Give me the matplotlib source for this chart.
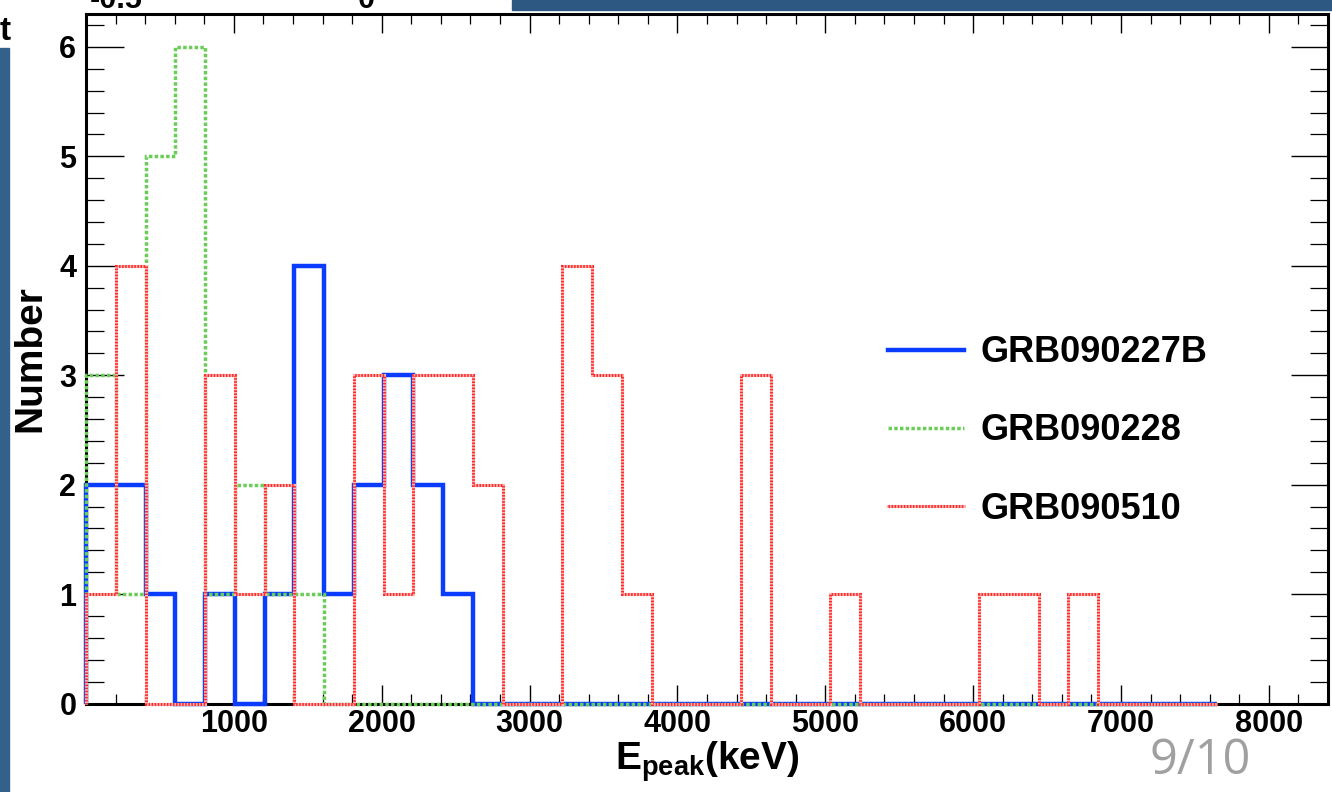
import numpy as np
import matplotlib
matplotlib.use("Agg")
import matplotlib.pyplot as plt
from matplotlib.lines import Line2D
from matplotlib.patches import Rectangle
from matplotlib.ticker import MultipleLocator

plt.rcParams["font.family"] = ["Liberation Sans", "DejaVu Sans"]
plt.rcParams["font.weight"] = "bold"
plt.rcParams["mathtext.fontset"] = "custom"
plt.rcParams["mathtext.rm"] = "Liberation Sans:bold"
plt.rcParams["mathtext.bf"] = "Liberation Sans:bold"
plt.rcParams["mathtext.it"] = "Liberation Sans:bold"

# 38 bins from 0 to ~7650 keV
bin_lo, bin_hi, n_bins = 0, 7650, 38

grb090227b = [2, 2, 1, 0, 1, 0, 1, 4, 1, 2, 3, 2, 1, 0, 0, 0, 0, 0, 0,
              0, 0, 0, 0, 0, 0, 0, 0, 0, 0, 0, 0, 0, 0, 0, 0, 0, 0, 0]
grb090228 = [3, 1, 5, 6, 1, 2, 1, 1, 0, 0, 0, 0, 0, 0, 0, 0, 0, 0, 0,
             0, 0, 0, 0, 0, 0, 0, 0, 0, 0, 0, 0, 0, 0, 0, 0, 0, 0, 0]
grb090510 = [1, 4, 0, 0, 3, 1, 2, 0, 0, 3, 1, 3, 3, 2, 0, 0, 4, 3, 1,
             0, 0, 0, 3, 0, 0, 1, 0, 0, 0, 0, 1, 1, 0, 1, 0, 0, 0, 0]
labels = ["GRB090227B", "GRB090228", "GRB090510"]

xticks = [0, 1000, 2000, 3000, 4000, 5000, 6000, 7000, 8000]
xticklabels = ["", "1000", "2000", "3000", "4000", "5000", "6000", "7000", "8000"]
yticks = [0, 1, 2, 3, 4, 5, 6]

edges = np.linspace(bin_lo, bin_hi, n_bins + 1)

W, H = 1332, 792
fig = plt.figure(figsize=(W / 100, H / 100), dpi=100)
ax = fig.add_axes([86 / W, (H - 703.5) / H, (1328 - 86) / W, (703.5 - 14) / H])

blue = dict(color="#0a3cff", lw=3.2, ls="-")
green = dict(color="#6acd58", lw=2.5, ls=(0, (1.0, 0.65)))
red_under = dict(color="#ffb4b4", lw=2.2, ls="-")
red = dict(color="#ff2a2a", lw=2.2, ls=(0, (0.5, 0.5)))

layers = [(grb090227b, blue, 3), (grb090228, green, 4),
          (grb090510, red_under, 5), (grb090510, red, 6)]
for vals, st, z in layers:
    ax.stairs(vals, edges, baseline=0, fill=False, edgecolor=st["color"],
              linewidth=st["lw"], linestyle=st["ls"], zorder=z, clip_on=False)

ax.set_xlim(0, 8400)
ax.set_ylim(0, 6.3)
ax.set_xticks(xticks)
ax.set_xticklabels(xticklabels)
ax.set_yticks(yticks)
ax.xaxis.set_minor_locator(MultipleLocator(200))
ax.yaxis.set_minor_locator(MultipleLocator(0.2))
ax.tick_params(axis="x", which="major", direction="in", length=14, width=1.0,
               top=True, labelsize=22, pad=4)
ax.tick_params(axis="x", which="minor", direction="in", length=7, width=0.9, top=True)
ax.tick_params(axis="y", which="major", direction="in", length=27, width=1.0,
               right=True, labelsize=22, pad=7)
ax.tick_params(axis="y", which="minor", direction="in", length=13, width=0.9, right=True)
for sp in ax.spines.values():
    sp.set_linewidth(2.2)

ax.set_xlabel(r"$\mathbf{E_{peak}(keV)}$", fontsize=28, labelpad=0)
ax.set_ylabel("Number", fontsize=28, fontweight="bold", labelpad=8)

# legend: red entry is two stacked lines (pale base + dense red dashes)
red_handle = (Line2D([], [], color=red_under["color"], lw=red_under["lw"]),
              Line2D([], [], color=red["color"], lw=red["lw"], ls=red["ls"]))
handles = [Line2D([], [], color=blue["color"], lw=blue["lw"]),
           Line2D([], [], color=green["color"], lw=green["lw"], ls=green["ls"]),
           red_handle]
ax.legend(handles, labels, loc="center left", bbox_to_anchor=(888 / W, 1 - 431 / H),
          bbox_transform=fig.transFigure, frameon=False, fontsize=26,
          handlelength=2.1, handletextpad=0.45, labelspacing=1.2,
          borderpad=0, borderaxespad=0)

# slide decorations around the chart
fig.patches.append(Rectangle((0, 0), 9 / W, 1 - 48 / H, transform=fig.transFigure,
                             color="#33618b", zorder=0))
fig.patches.append(Rectangle((512 / W, 1 - 10 / H), 1 - 512 / W, 10 / H,
                             transform=fig.transFigure, color="#2c5882", zorder=0))
fig.text(0, 1 - 40 / H, "t", fontsize=24, fontweight="bold")
fig.text(90 / W, 1 - 8 / H, "-0.5", fontsize=22, fontweight="bold", va="baseline")
fig.text(358 / W, 1 - 8 / H, "0", fontsize=22, fontweight="bold", va="baseline")
fig.text(1150 / W, 1 - 774 / H, "9/10", fontsize=35, fontweight="normal",
         family=["Open Sans", "DejaVu Sans"], color="#a0a0a0", va="baseline")

fig.savefig("out.png", dpi=100)
